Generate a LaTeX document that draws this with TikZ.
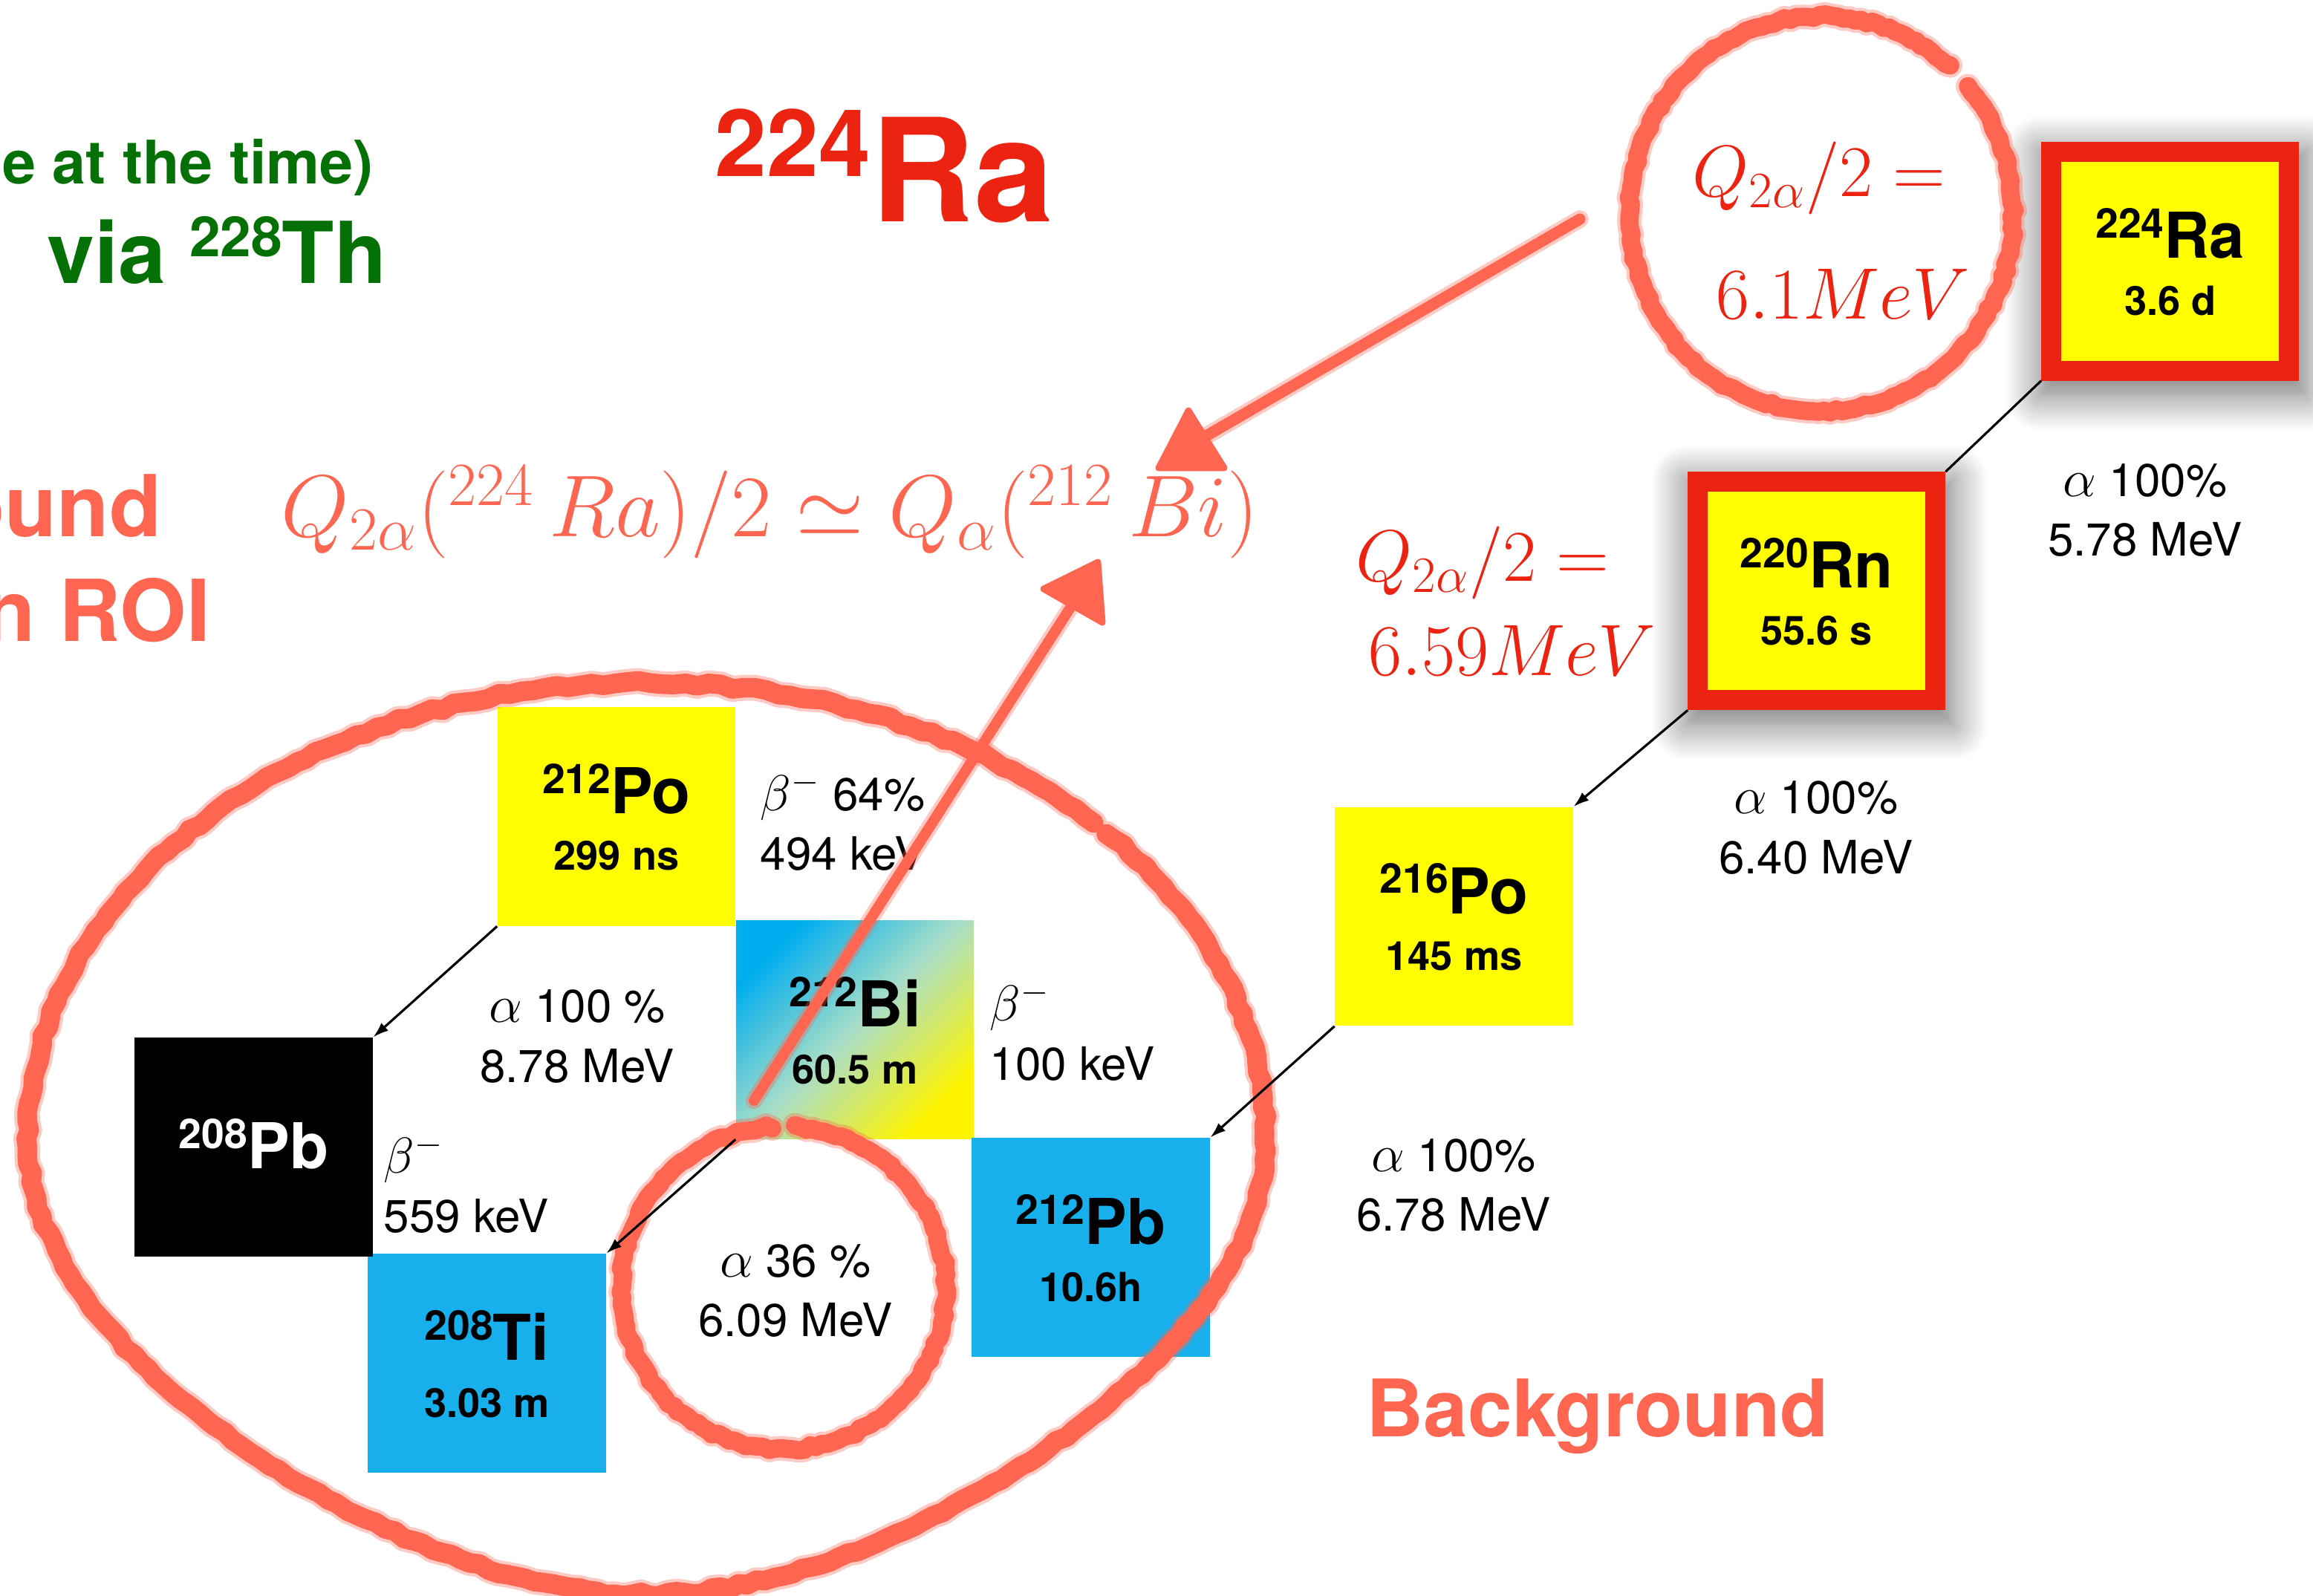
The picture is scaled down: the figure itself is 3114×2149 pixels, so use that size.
\RequirePackage{fix-cm}
\documentclass[tikz,border=0pt]{standalone}
\usepackage{fontspec}
\setmainfont{TeX Gyre Heros}
\usepackage{graphicx}
\usetikzlibrary{calc,arrows.meta,shadows.blur}

\definecolor{nucyellow}{RGB}{255,253,0}
\definecolor{framered}{RGB}{236,35,17}
\definecolor{nucblue}{RGB}{23,175,236}
\definecolor{chalkred}{RGB}{255,102,82}
\definecolor{darkgreen}{RGB}{5,112,5}
\definecolor{bitop}{RGB}{0,174,239}
\definecolor{bimid}{RGB}{170,222,198}
\definecolor{bibottom}{RGB}{255,244,0}

% mass number raised in front of the element symbol
\newcommand\iso[2]{\raisebox{0.32em}{\scalebox{0.65}{#1}}#2}
% decay-mode symbols, a little larger than plain math
\newcommand\decA{\scalebox{1.15}{$\alpha$}}
\newcommand\decB{\scalebox{1.1}{$\beta^-$}}

% one nuclide: box, name line and half-life line
\newcommand\nuclide[6]{%
  \node[nucbox,#3] (#1) at (#2) {};
  \node[namefont, anchor=base] (#1-name) at ($(#1.center)+(0,-4)$) {\iso{#4}{#5}};
  \node[hlfont, anchor=base] (#1-hl) at ($(#1.center)+(0,72.5)$) {#6};
}

\tikzset{
  nucbox/.style={rectangle, inner sep=0pt, minimum width=3.2cm, minimum height=2.94cm},
  framed/.style={fill=nucyellow, draw=framered, line width=0.27cm,
    blur shadow={shadow xshift=1pt, shadow yshift=-4pt, shadow scale=1.12,
      shadow blur radius=12pt, shadow blur steps=14, shadow opacity=55}},
  bishade/.style={top color=bitop, bottom color=bibottom, middle color=bimid, shading angle=45},
  namefont/.style={font=\bfseries\fontsize{24.2}{29}\selectfont, inner sep=0pt},
  hlfont/.style={font=\bfseries\fontsize{15.4}{18}\selectfont, inner sep=0pt},
  lbl/.style={font=\fontsize{17.6}{22.8}\selectfont, align=center, inner sep=0pt},
  lblleft/.style={lbl, align=left, anchor=west},
  qtext/.style={font=\fontsize{27.9}{33}\selectfont, text=framered, inner sep=0pt, anchor=base west},
  decay/.style={draw=black, line width=0.9pt, -{Latex[length=6pt,width=4pt]}},
  chalkline/.style={draw=chalkred, line width=#1, line cap=round, line join=round,
    preaction={draw=chalkred, draw opacity=0.35, line width=#1+2.4pt, line cap=round,
      line join=round}},
  chalkhead/.style={fill=chalkred, draw=chalkred, line width=2.5pt, line join=round},
}

\begin{document}
\begin{tikzpicture}[x=0.01cm, y=-0.01cm]
\pgfmathsetseed{11}
\useasboundingbox (0,0) rectangle (3114,2149);
\clip (0,0) rectangle (3114,2149);

% ---------- headings ----------
\node[font=\bfseries\fontsize{23}{27}\selectfont, text=darkgreen, inner sep=0pt, anchor=base east]
  (timenote) at (503,248) {e at the time)};
\node[font=\bfseries\fontsize{32.7}{38}\selectfont, text=darkgreen, inner sep=0pt, anchor=base east]
  (viath) at (521,382) {via \iso{228}{Th}};
\node[font=\bfseries\fontsize{54.9}{60}\selectfont, text=framered, inner sep=0pt, anchor=base west]
  (ratitle) at (962,299) {\iso{224}{Ra}};
\node[font=\bfseries\fontsize{32.7}{38}\selectfont, text=chalkred, inner sep=0pt, anchor=base east]
  (bgleft) at (218,723) {ound};
\node[font=\bfseries\fontsize{32.7}{38}\selectfont, text=chalkred, inner sep=0pt, anchor=base east]
  (roi) at (284,864) {n ROI};
\node[font=\bfseries\fontsize{30.4}{36}\selectfont, text=chalkred, inner sep=0pt, anchor=base west]
  (background) at (1839,1934) {Background};

% ---------- Q-value notes ----------
\node[qtext] (q1a) at (2278,265) {$Q_{2\alpha}/2=$};
\node[qtext] (q1b) at (2310,430) {$6.1MeV$};
\node[qtext] (q2a) at (1825,783) {$Q_{2\alpha}/2=$};
\node[qtext] (q2b) at (1842,910) {$6.59MeV$};
\node[font=\fontsize{33.6}{40}\selectfont, text=chalkred, inner sep=0pt, anchor=base west]
  (formula) at (378,723) {$Q_{2\alpha}({}^{224}\,Ra)/2\simeq Q_{\alpha}({}^{212}\,Bi)$};

% ---------- decay chain ----------
\nuclide{ra224}{2921.75,352}{framed}{224}{Ra}{3.6 d}
\nuclide{rn220}{2445.75,795.75}{framed}{220}{Rn}{55.6 s}
\nuclide{po216}{1957.5,1234}{fill=nucyellow}{216}{Po}{145 ms}
\nuclide{po212}{830,1099.5}{fill=nucyellow}{212}{Po}{299 ns}
\nuclide{bi212}{1151,1386.5}{bishade}{212}{Bi}{60.5 m}
\nuclide{pb212}{1468.5,1679.5}{fill=nucblue}{212}{Pb}{10.6h}
\nuclide{ti208}{655.5,1835.5}{fill=nucblue}{208}{Ti}{3.03 m}
\node[nucbox, fill=black] (pb208) at (341.5,1544.5) {};
\node[namefont, text=white, anchor=base] (pb208-name) at ($(pb208.center)+(0,29)$) {\iso{208}{Pb}};

% ---------- decay labels ----------
\node[lbl] (lra) at (2888,687) {\decA{} 100\%\\5.78 MeV};
\node[lbl] (lrn) at (2445,1114.5) {\decA{} 100\%\\6.40 MeV};
\node[lbl] (lpo216) at (1957,1596) {\decA{} 100\%\\6.78 MeV};
\node[lbl] (lpo212) at (777,1395.5) {\decA{} 100 \%\\8.78 MeV};
\node[lbl] (lbia) at (1071,1738) {\decA{} 36 \%\\6.09 MeV};
\node[lblleft] (lbib) at (1023,1106) {\decB{} 64\%\\494 keV};
\node[lblleft] (lpbb) at (1332,1389) {\decB\\100 keV};
\node[lblleft] (ltib) at (516,1594) {\decB\\559 keV};

% ---------- hand-drawn marks ----------
% ring round the Q value of 224Ra
\draw[chalkline=7pt] plot[domain=-40:312, samples=200]
  ({2452+(256+5*rnd)*cos(\x)}, {288+(264+5*rnd)*sin(\x)});
% ring round the 36 % alpha branch
\draw[chalkline=7pt] plot[domain=-86:266, samples=170]
  ({1055+(216+5*rnd)*cos(\x)}, {1734+(215+5*rnd)*sin(\x)});
% loop round the 212Bi / 212Po part of the chain, narrower towards its bottom
\draw[chalkline=7.5pt] plot[domain=-42:316, samples=330]
  ({871+(830+6*rnd)*cos(\x)*(1-0.25*max(0,sin(\x))^2)}, {1533+(611+6*rnd)*sin(\x)});

\coordinate (m1s) at (2127,295);
\coordinate (m1e) at (1622,588);
\draw[chalkline=4.3pt] (m1s) -- (m1e);
\filldraw[chalkhead] (1560,630) -- (1600,553) -- (1648,630) -- cycle;

\coordinate (m2s) at (1015,1482);
\coordinate (m2e) at (1445,812);
\draw[chalkline=4pt] (m2s) -- (m2e);
\filldraw[chalkhead] (1478,757) -- (1405,793) -- (1484,838) -- cycle;

% ---------- decay arrows ----------
\draw[line width=0.9pt] (ra224.south west) -- (rn220.north east);
\draw[decay] (rn220.south west) -- (po216.north east);
\draw[decay] (po216.south west) -- (pb212.north east);
\draw[decay] (po212.south west) -- (pb208.north east);
\draw[decay] (bi212.south west) -- (ti208.north east);
\end{tikzpicture}
\end{document}
